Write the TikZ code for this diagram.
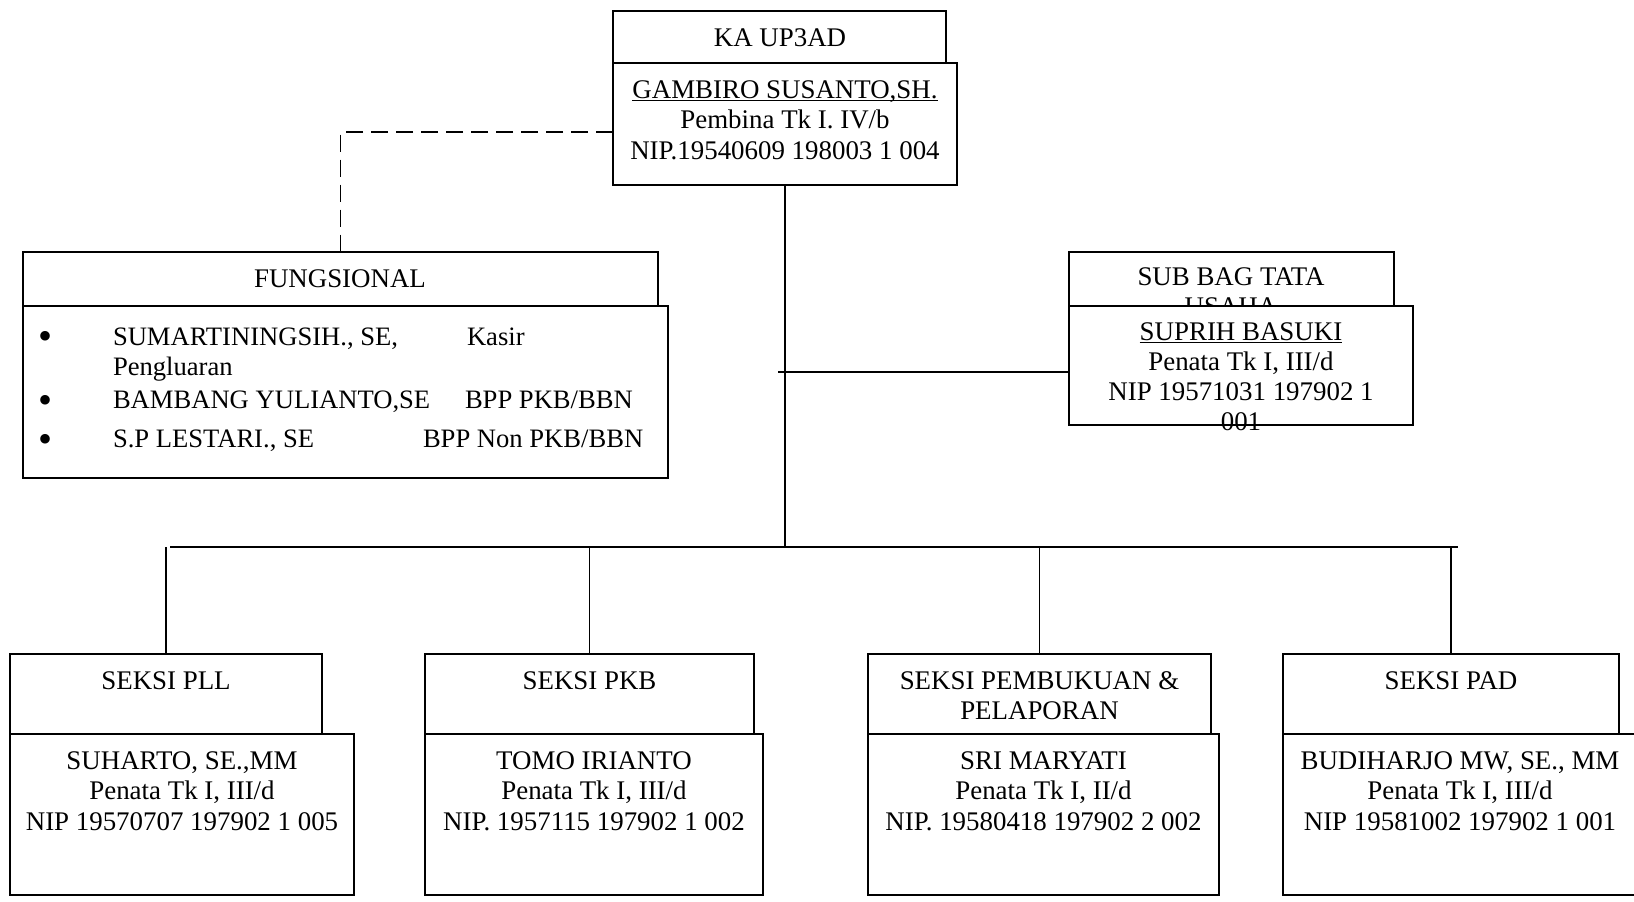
\documentclass[tikz,border=0pt]{standalone}
\usepackage{fontspec}
\setmainfont{Liberation Serif}
\newcommand\tp{\rule{0pt}{20pt}}
\newcommand\ulx[1]{\setbox0\hbox{#1}\rlap{\rule[-3pt]{\wd0}{1.3pt}}\box0}
\tikzset{
  box/.style={draw, line width=1.6pt, inner sep=0pt, outer sep=0pt, anchor=north west, fill=white},
  txt/.style={inner sep=0pt, outer sep=0pt, align=center, anchor=north, font=\fontsize{26.9}{30.5}\selectfont},
  ltxt/.style={inner sep=0pt, outer sep=0pt, anchor=base west, font=\fontsize{26.6}{30.5}\selectfont},
  btxt/.style={inner sep=0pt, outer sep=0pt, anchor=center, font=\fontsize{40}{40}\selectfont},
  conn/.style={line width=1.6pt},
  dconn/.style={line width=1.6pt, dash pattern=on 17pt off 8pt},
}
\begin{document}
\begin{tikzpicture}[x=1pt,y=-1pt]
\useasboundingbox (0,0) rectangle (1634,902);
\clip (0,0) rectangle (1634,902);

% top
\node[box, minimum width=333pt, minimum height=52pt] (kaT) at (613,11) {};
\node[txt] (kaTt) at (780,26) {\tp KA UP3AD};
\node[box, minimum width=344pt, minimum height=122pt] (kaN) at (613,63) {};
\node[txt] (kaNt) at (785,78) {\tp\ulx{GAMBIRO SUSANTO,SH.}\\Pembina Tk I. IV/b\\NIP.19540609 198003 1 004};

% fungsional
\node[box, minimum width=635pt, minimum height=54pt] (fT) at (23,252) {};
\node[txt] (fTt) at (340,267) {\tp FUNGSIONAL};
\node[box, minimum width=645pt, minimum height=172pt] (fN) at (23,306) {};
\node[btxt] (b1) at (46,340) {•};
\node[btxt] (b2) at (46,404) {•};
\node[btxt] (b3) at (46,443) {•};
\node[ltxt] (l1a) at (113,345) {SUMARTININGSIH., SE,};
\node[ltxt] (l1b) at (467,345) {Kasir};
\node[ltxt] (l1c) at (113,375) {Pengluaran};
\node[ltxt] (l2a) at (113,408) {BAMBANG YULIANTO,SE};
\node[ltxt] (l2b) at (465,408) {BPP PKB/BBN};
\node[ltxt] (l3a) at (113,447) {S.P LESTARI., SE};
\node[ltxt] (l3b) at (423,447) {BPP Non PKB/BBN};

% sub bag tata usaha
\node[box, minimum width=325pt, minimum height=54pt] (sT) at (1069,252) {};
\node[txt] (sTt) at (1231,265) {\tp SUB BAG TATA\\USAHA};
\node[box, minimum width=344pt, minimum height=119pt] (sN) at (1069,306) {};
\node[txt, font=\fontsize{26.9}{30}\selectfont] (sNt) at (1241,320) {\tp\ulx{SUPRIH BASUKI}\\Penata Tk I, III/d\\NIP 19571031 197902 1\\001};

% bottom boxes
\node[box, minimum width=312pt, minimum height=80pt] (pllT) at (10,654) {};
\node[txt] (pllTt) at (166,669) {\tp SEKSI PLL};
\node[box, minimum width=344pt, minimum height=161pt] (pllN) at (10,734) {};
\node[txt] (pllNt) at (182,749) {\tp SUHARTO, SE.,MM\\Penata Tk I, III/d\\NIP 19570707 197902 1 005};

\node[box, minimum width=329pt, minimum height=80pt] (pkbT) at (425,654) {};
\node[txt] (pkbTt) at (589.5,669) {\tp SEKSI PKB};
\node[box, minimum width=338pt, minimum height=161pt] (pkbN) at (425,734) {};
\node[txt] (pkbNt) at (594,749) {\tp TOMO IRIANTO\\Penata Tk I, III/d\\NIP. 1957115 197902 1 002};

\node[box, minimum width=343pt, minimum height=80pt] (pemT) at (868,654) {};
\node[txt] (pemTt) at (1039.5,669) {\tp SEKSI PEMBUKUAN \&\\PELAPORAN};
\node[box, minimum width=351pt, minimum height=161pt] (pemN) at (868,734) {};
\node[txt] (pemNt) at (1043.5,749) {\tp SRI MARYATI\\Penata Tk I, II/d\\NIP. 19580418 197902 2 002};

\node[box, minimum width=336pt, minimum height=80pt] (padT) at (1283,654) {};
\node[txt] (padTt) at (1451,669) {\tp SEKSI PAD};
\node[box, minimum width=355pt, minimum height=161pt] (padN) at (1283,734) {};
\node[txt] (padNt) at (1460,749) {\tp BUDIHARJO MW, SE., MM\\Penata Tk I, III/d\\NIP 19581002 197902 1 001};

% connectors
\coordinate (busL) at (170,547);
\coordinate (busR) at (1458,547);
\coordinate (busC) at (785,547);
\coordinate (tuL) at (778,372);
\draw[conn] (kaN.south) -- (busC);
\draw[conn] (busL) -- (busR);
\draw[conn] (pllT.north) -- (pllT.north |- busL);
\draw[conn] (pkbT.north) -- (pkbT.north |- busL);
\draw[conn] (pemT.north) -- (pemT.north |- busL);
\draw[conn] (padT.north) -- (padT.north |- busL);
\draw[conn] (tuL) -- (tuL -| sN.west);
\draw[dconn] ([yshift=-8pt]kaN.west) -| (fT.north);
\end{tikzpicture}
\end{document}
